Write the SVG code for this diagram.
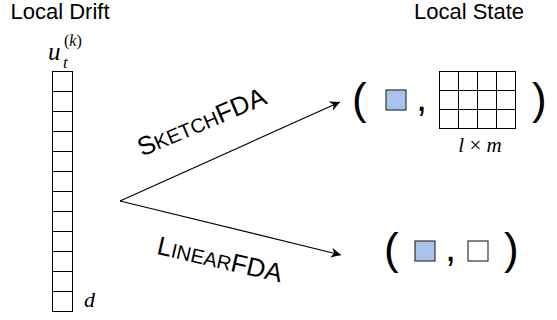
<svg xmlns="http://www.w3.org/2000/svg" width="557" height="320" viewBox="0 0 557 320">
<style>
.title{font-family:"Liberation Sans",Arial,sans-serif;font-size:22px;fill:#000}
.lbl{font-family:"Liberation Sans",Arial,sans-serif;fill:#000}
.math{font-family:"Liberation Serif","Times New Roman",serif;font-style:italic;fill:#000}
.paren{font-family:"Liberation Sans",Arial,sans-serif;font-size:44px;fill:#000}
.comma{font-family:"Liberation Sans",Arial,sans-serif;font-size:40px;fill:#000}
.cell{fill:#fff;stroke:#000;stroke-width:1}
.blue{fill:#A9C4EB;stroke:#333;stroke-width:1.2}
.wsq{fill:#fff;stroke:#333;stroke-width:1.2}
.conn{stroke:#000;stroke-width:1.2;fill:none}
</style>
<defs>
<marker id="arr" markerWidth="12" markerHeight="10" refX="10" refY="5" orient="auto" markerUnits="userSpaceOnUse">
<path d="M0,0 L10,5 L0,10 L3,5 Z" fill="#000"/>
</marker>
</defs>
<rect width="557" height="320" fill="#fff"/>
<g id="title-drift"><text class="title" x="60" y="19" text-anchor="middle">Local Drift</text></g>
<g id="title-state"><text class="title" x="469" y="19" text-anchor="middle">Local State</text></g>
<g id="drift-vector">
<text class="math" x="48" y="60" font-size="25">u</text>
<text class="math" x="63" y="68" font-size="17">t</text>
<text class="math" x="64" y="46" font-size="16"><tspan font-style="normal">(</tspan>k<tspan font-style="normal">)</tspan></text>
<rect class="cell" x="52.5" y="71.5" width="20" height="240"/>
<path d="M52.5 91.5H72.5M52.5 111.5H72.5M52.5 131.5H72.5M52.5 151.5H72.5M52.5 171.5H72.5M52.5 191.5H72.5M52.5 211.5H72.5M52.5 231.5H72.5M52.5 251.5H72.5M52.5 271.5H72.5M52.5 291.5H72.5" stroke="#000" stroke-width="1" fill="none"/>
<text class="math" x="84" y="307" font-size="22">d</text>
</g>
<g id="connectors">
<line class="conn" x1="120" y1="201" x2="340" y2="102" marker-end="url(#arr)"/>
<line class="conn" x1="120" y1="201" x2="341" y2="255" marker-end="url(#arr)"/>
<text class="lbl" transform="translate(205,130) rotate(-23)" text-anchor="middle"><tspan font-size="26">S</tspan><tspan font-size="20">KETCH</tspan><tspan font-size="26">FDA</tspan></text>
<text class="lbl" transform="translate(218,268) rotate(13)" text-anchor="middle"><tspan font-size="26">L</tspan><tspan font-size="20">INEAR</tspan><tspan font-size="26">FDA</tspan></text>
</g>
<g id="state-sketch">
<text class="paren" x="352" y="114">(</text>
<rect class="blue" x="386" y="90" width="20" height="20"/>
<text class="comma" x="416" y="111">,</text>
<rect class="cell" x="439.5" y="71.5" width="76" height="57"/>
<path d="M458.5 71.5V128.5M477.5 71.5V128.5M496.5 71.5V128.5M439.5 90.5H515.5M439.5 109.5H515.5" stroke="#000" stroke-width="1" fill="none"/>
<text class="math" x="480" y="152" font-size="21" text-anchor="middle">l <tspan font-style="normal">×</tspan> m</text>
<text class="paren" x="532" y="114">)</text>
</g>
<g id="state-linear">
<text class="paren" x="384" y="264">(</text>
<rect class="blue" x="415" y="241" width="20" height="20"/>
<text class="comma" x="445" y="261">,</text>
<rect class="wsq" x="468" y="241" width="20" height="20"/>
<text class="paren" x="504" y="264">)</text>
</g>
</svg>
